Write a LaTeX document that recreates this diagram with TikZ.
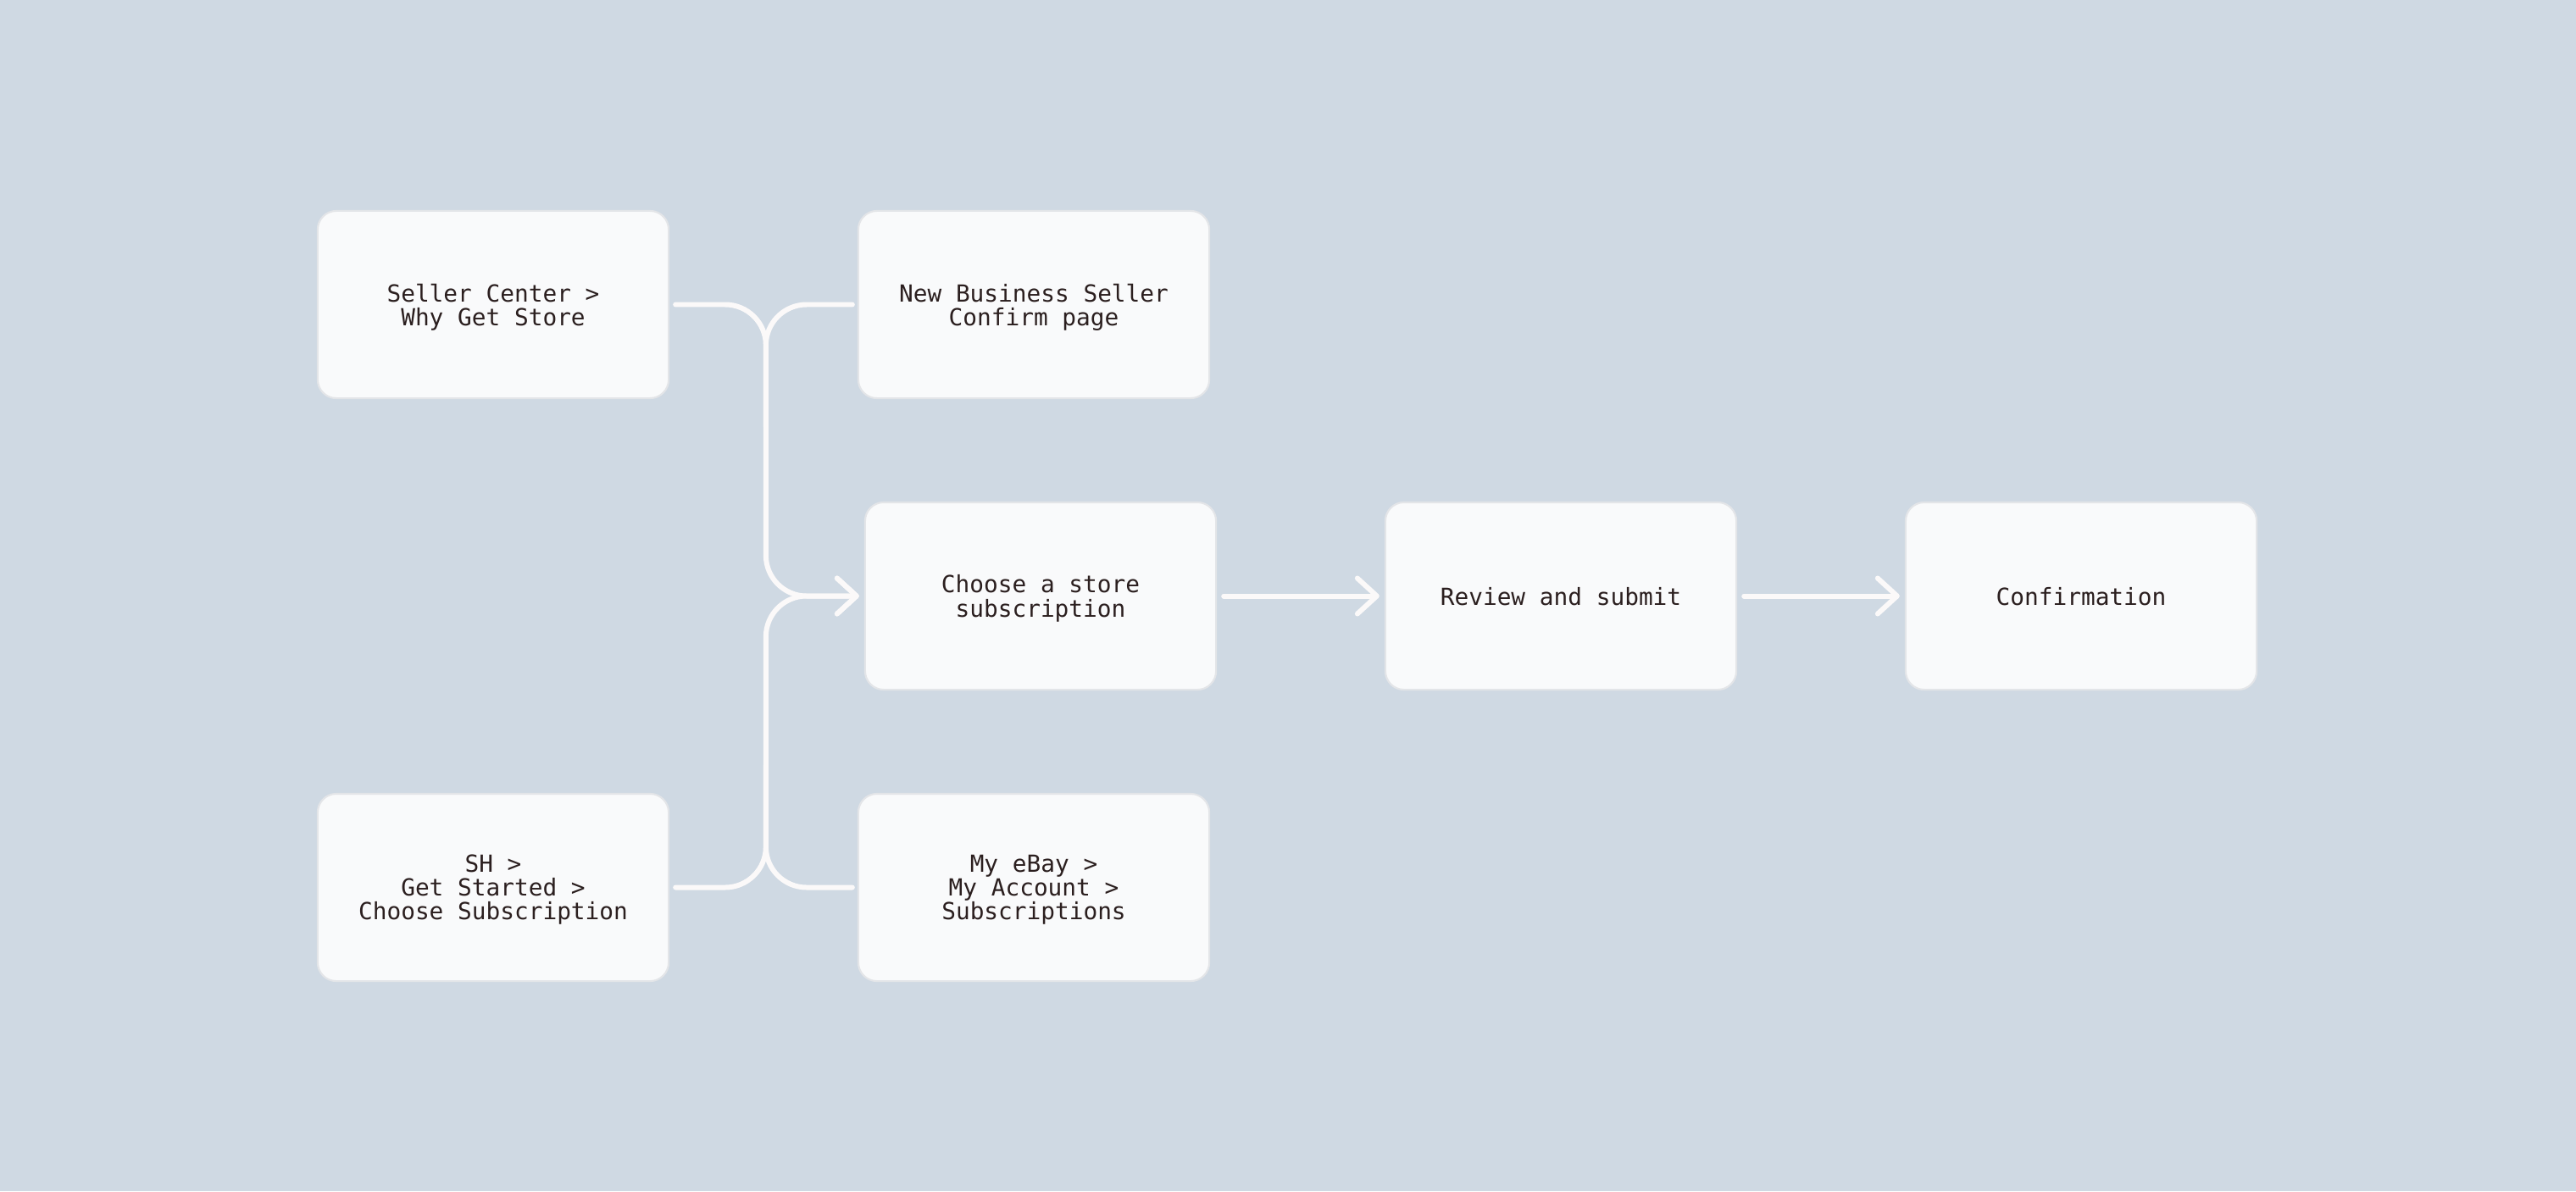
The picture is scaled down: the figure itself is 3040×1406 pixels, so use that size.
\documentclass[tikz,border=0pt]{standalone}
\usepackage{fontspec}
\setmonofont{DejaVu Sans Mono}
\usetikzlibrary{arrows.meta,calc}
\definecolor{bg}{HTML}{CFD9E3}
\definecolor{cardfill}{HTML}{F9FAFB}
\definecolor{cardline}{HTML}{E3E5E8}
\definecolor{wire}{HTML}{FBF9F9}
\definecolor{ink}{HTML}{2B1F1F}
\begin{document}
\begin{tikzpicture}[x=0.01cm, y=-0.01cm,
  card/.style={draw=cardline, line width=0.6pt, fill=cardfill,
    rounded corners=0.22cm, minimum width=4.14cm, minimum height=2.21cm,
    inner sep=0pt, align=center, text=ink, text depth=0pt,
    font=\ttfamily\fontsize{7.9}{8}\selectfont},
  wire/.style={draw=wire, line width=1.7pt, line cap=round, line join=round},
  fork/.style={wire, rounded corners=0.48cm},
  tip/.style={-{Straight Barb[length=0.23cm, width=0.42cm, round]}}]

% canvas
\fill[bg] (0,0) rectangle (3040,1406);
\useasboundingbox (0,0) rectangle (3040,1406);

% steps
\node[card] (seller)  at (582,359.5)  {Seller Center >\\Why Get Store};
\node[card] (nbs)     at (1220,359.5) {New Business Seller\\Confirm page};
\node[card] (choose)  at (1228,703.5) {Choose a store\\subscription};
\node[card] (review)  at (1842,703.5) {Review and submit};
\node[card] (confirm) at (2456,703.5) {Confirmation};
\node[card] (sh)      at (582,1047.5) {SH >\\Get Started >\\Choose Subscription};
\node[card] (myebay)  at (1220,1047.5) {My eBay >\\My Account >\\Subscriptions};

% merge point on the shared spine, and the arrow tip in front of the target
\coordinate (jtip) at ($(choose.west)+(-6,0)$);
\coordinate (join) at ($(choose.west)+(-116,0)$);

% entry paths joining the spine
\draw[fork,tip] ([xshift=0.07cm]seller.east) -| (join) -- (jtip);
\draw[fork,tip] ([xshift=0.07cm]sh.east) -| (join) -- (jtip);
\draw[fork] ([xshift=-0.06cm]nbs.west) -| ($(join)+(0,-200)$);
\draw[fork] ([xshift=-0.06cm]myebay.west) -| ($(join)+(0,200)$);

% main flow
\draw[wire,tip] ([xshift=0.08cm]choose.east) -- ([xshift=-0.06cm]review.west);
\draw[wire,tip] ([xshift=0.08cm]review.east) -- ([xshift=-0.06cm]confirm.west);
\end{tikzpicture}
\end{document}
